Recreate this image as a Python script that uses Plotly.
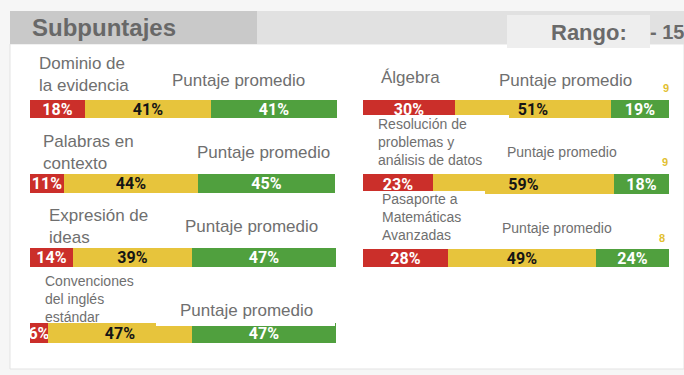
import plotly.graph_objects as go

# Subscore names (line breaks as shown on the card)
left_names = ["Dominio de<br>la evidencia", "Palabras en<br>contexto",
              "Expresión de<br>ideas", "Convenciones<br>del inglés<br>estándar"]
right_names = ["Álgebra", "Resolución de<br>problemas y<br>análisis de datos",
               "Pasaporte a<br>Matemáticas<br>Avanzadas"]
avg_label = "Puntaje promedio"

# Percent of students below / at / above the average band
pct_below = [18, 11, 14, 6, 30, 23, 28]
pct_average = [41, 44, 39, 47, 51, 59, 49]
pct_above = [41, 45, 47, 47, 19, 18, 24]

W, H = 684, 375
RED, YELLOW, GREEN = "#cb2f2a", "#e7c43c", "#50a03e"
LABEL_GREY = "#6f6f6f"
SANS = "Liberation Sans, Arial, sans-serif"
NARROW = "Liberation Sans Narrow, Arial Narrow, Roboto, sans-serif"


def fx(x):
    return x / W


def fy(y):
    return 1 - y / H


# Bar placement in page pixels: (x0, x1, y0, y1)
bar_boxes = [
    (30, 337, 100, 118), (30, 335, 174, 193), (30, 336, 248, 267), (30, 336, 323, 343),
    (363, 669, 100, 118), (363, 669, 174, 194), (363, 669, 249, 267),
]

fig = go.Figure()
layout_axes = {}
for i, (x0, x1, y0, y1) in enumerate(bar_boxes):
    n = i + 1
    xa, ya = f"x{n}", f"y{n}"
    total = pct_below[i] + pct_average[i] + pct_above[i]
    for vals, col, tcol in ((pct_below, RED, "white"),
                            (pct_average, YELLOW, "#151515"),
                            (pct_above, GREEN, "white")):
        fig.add_trace(go.Bar(
            x=[vals[i]], y=[0], orientation="h", width=1,
            marker=dict(color=col, line=dict(width=0)),
            text=[f"{vals[i]}%"], textposition="inside", textangle=0,
            insidetextanchor="middle", cliponaxis=False,
            textfont=dict(family=NARROW, size=16, color=tcol, weight="bold"),
            xaxis=xa, yaxis=ya, showlegend=False, hoverinfo="skip",
        ))
    key = "" if n == 1 else str(n)
    layout_axes[f"xaxis{key}"] = dict(domain=[fx(x0), fx(x1)], range=[0, total],
                                      visible=False, anchor=ya, fixedrange=True)
    layout_axes[f"yaxis{key}"] = dict(domain=[fy(y1), fy(y0)], range=[-0.5, 0.5],
                                      visible=False, anchor=xa, fixedrange=True)

shapes = []


def rect(x0, y0, x1, y1, fill, line=None, layer="below"):
    shapes.append(dict(type="rect", xref="paper", yref="paper",
                       x0=fx(x0), x1=fx(x1), y0=fy(y1), y1=fy(y0),
                       fillcolor=fill, layer=layer,
                       line=dict(width=1 if line else 0, color=line or fill)))


# Card and header band
rect(10, 44, 684, 369, "white", line="#e3e3e3")
rect(10, 11, 684, 44, "#e1e1e1")
rect(10, 11, 257, 44, "#c9c9c9")
rect(507, 15, 650, 48, "#eeeeee")

# White label panels laid over the bars
rect(360, 115, 509, 166, "white", layer="above")
rect(489, 135, 650, 167, "white", layer="above")
rect(360, 191, 485, 242, "white", layer="above")
rect(485, 210, 644, 243, "white", layer="above")
rect(156, 300, 335, 326, "white", layer="above")

annotations = []


def label(text, x, y, size, color=LABEL_GREY, bold=False, family=SANS):
    annotations.append(dict(text=text, x=fx(x), y=fy(y), xref="paper", yref="paper",
                            xanchor="left", yanchor="middle", showarrow=False, align="left",
                            font=dict(family=family, size=size, color=color,
                                      weight="bold" if bold else "normal")))


label("Subpuntajes", 30, 28, 24, color="#686868", bold=True)
label("Rango:", 549, 33, 22, color="#6a6a6a", bold=True)
label("- 15", 648, 32, 20, color="#6a6a6a", bold=True)

# Left column labels
label(left_names[0], 37, 75, 17)
label(avg_label, 170, 80, 17)
label(left_names[1], 41, 152, 17)
label(avg_label, 195, 153, 17)
label(left_names[2], 47, 226, 17)
label(avg_label, 183, 227, 17)
label(left_names[3], 43, 299, 14)
label(avg_label, 178, 310, 17)

# Right column labels
label(right_names[0], 379, 77, 17)
label(avg_label, 497, 81, 17)
label(right_names[1], 376, 142, 14)
label(avg_label, 505, 152, 14)
label(right_names[2], 380, 217, 14)
label(avg_label, 500, 228, 14)

# Small marker digits at the right end of the math rows
for txt, x, y in (("9", 661, 88), ("9", 660, 162), ("8", 657, 238)):
    label(txt, x, y, 11, color="#e2c030", bold=True)

fig.update_layout(
    width=W, height=H, margin=dict(l=0, r=0, t=0, b=0),
    paper_bgcolor="#f6f6f6", plot_bgcolor="rgba(0,0,0,0)",
    barmode="stack", bargap=0,
    uniformtext=dict(minsize=16, mode="show"),
    shapes=shapes, annotations=annotations,
    **layout_axes,
)

fig.write_html("out.html")
